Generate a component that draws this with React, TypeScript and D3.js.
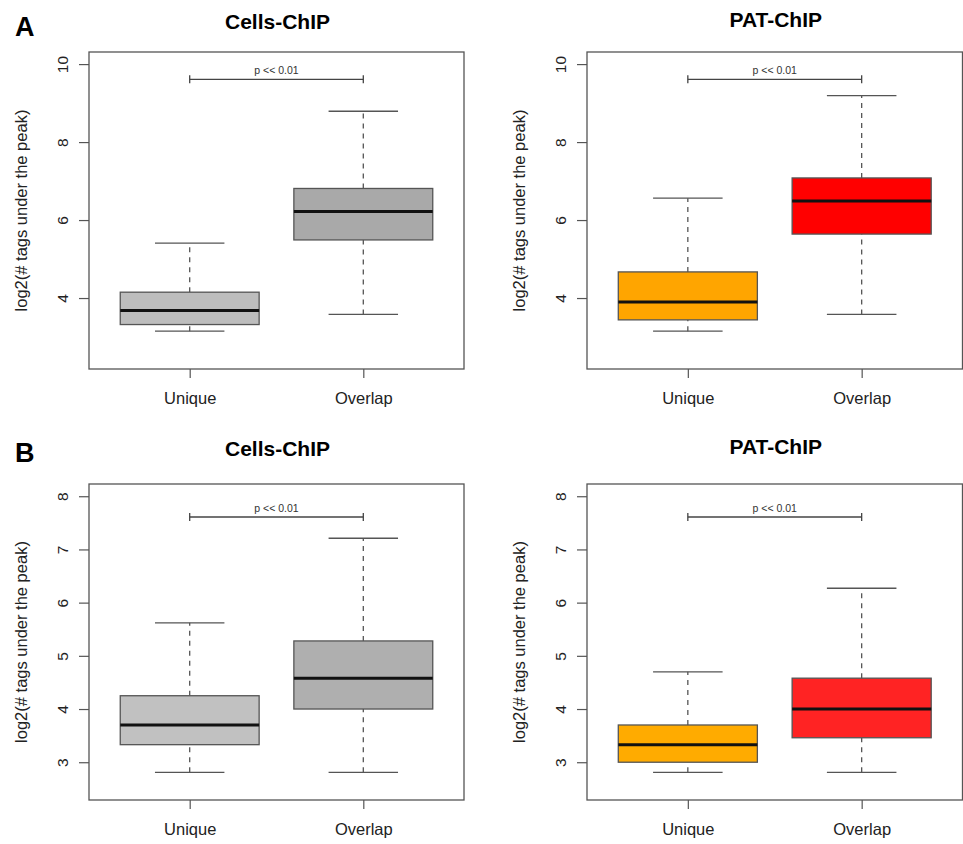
import { useEffect, useRef } from "react";
import * as d3 from "d3";

const groups = ["Unique", "Overlap"];

// five-number summaries: [lower whisker, Q1, median, Q3, upper whisker]
const aCellsUnique = [3.15, 3.32, 3.68, 4.15, 5.41];
const aCellsOverlap = [3.58, 5.49, 6.22, 6.81, 8.79];
const aPatUnique = [3.15, 3.44, 3.9, 4.67, 6.56];
const aPatOverlap = [3.58, 5.64, 6.49, 7.08, 9.19];
const bCellsUnique = [2.81, 3.33, 3.7, 4.25, 5.62];
const bCellsOverlap = [2.81, 4.0, 4.58, 5.28, 7.21];
const bPatUnique = [2.81, 3.0, 3.33, 3.7, 4.7];
const bPatOverlap = [2.81, 3.46, 4.0, 4.58, 6.27];

const aTicks = [4, 6, 8, 10];
const bTicks = [3, 4, 5, 6, 7, 8];
const aDomain = [2.18, 10.31];
const bDomain = [2.29, 8.23];
const aPValueAt = 9.61;
const bPValueAt = 7.61;

const titles = ["Cells-ChIP", "PAT-ChIP"];
const pLabel = "p << 0.01";
const yLabel = "log2(# tags under the peak)";

const font = "'Liberation Sans', Arial, Helvetica, sans-serif";

const panels = [
  { title: titles[0], stats: [aCellsUnique, aCellsOverlap], fills: ["#bdbdbd", "#a9a9a9"], ticks: aTicks, domain: aDomain, pAt: aPValueAt, left: 89, right: 464, top: 52, bottom: 369, titleY: 29 },
  { title: titles[1], stats: [aPatUnique, aPatOverlap], fills: ["#ffa500", "#ff0000"], ticks: aTicks, domain: aDomain, pAt: aPValueAt, left: 587, right: 962.5, top: 52, bottom: 369, titleY: 27 },
  { title: titles[0], stats: [bCellsUnique, bCellsOverlap], fills: ["#c1c1c1", "#afafaf"], ticks: bTicks, domain: bDomain, pAt: bPValueAt, left: 89, right: 464, top: 484, bottom: 800, titleY: 456 },
  { title: titles[1], stats: [bPatUnique, bPatOverlap], fills: ["#ffab00", "#ff2323"], ticks: bTicks, domain: bDomain, pAt: bPValueAt, left: 587, right: 962.5, top: 484, bottom: 800, titleY: 454 },
];

export default function App() {
  const ref = useRef<SVGSVGElement>(null);

  useEffect(() => {
    const svg = d3.select(ref.current);
    svg.selectAll("*").remove();

    svg.append("text").attr("x", 15).attr("y", 36).attr("font-size", 27).attr("font-weight", "bold").text("A");
    svg.append("text").attr("x", 15).attr("y", 462).attr("font-size", 27).attr("font-weight", "bold").text("B");

    panels.forEach((p) => {
      // R boxplot: positions 1..n, xlim 0.5..n+0.5 padded by 4%
      const x = d3.scaleLinear().domain([0.42, 2.58]).range([p.left, p.right]);
      const y = d3.scaleLinear().domain(p.domain).range([p.bottom, p.top]);
      const g = svg.append("g");

      g.append("text")
        .attr("x", (p.left + p.right) / 2 + 1)
        .attr("y", p.titleY)
        .attr("text-anchor", "middle")
        .attr("font-size", 21)
        .attr("font-weight", "bold")
        .text(p.title);

      // y axis
      const ya = g.append("g")
        .attr("transform", `translate(${p.left},0)`)
        .call(d3.axisLeft(y).tickValues(p.ticks).tickSize(10).tickFormat(d3.format("d")));
      ya.select(".domain").remove();
      ya.selectAll(".tick line").attr("stroke", "#555").attr("stroke-width", 1.2);
      ya.selectAll(".tick text")
        .attr("x", null).attr("dy", null)
        .attr("transform", "translate(-27,0) rotate(-90)")
        .attr("text-anchor", "middle")
        .attr("dominant-baseline", "central")
        .attr("font-size", 15.5)
        .attr("font-family", font)
        .attr("fill", "#222");

      // x axis
      const xa = g.append("g")
        .attr("transform", `translate(0,${p.bottom})`)
        .call(d3.axisBottom(x).tickValues([1, 2]).tickSize(9).tickFormat((d) => groups[(d as number) - 1]));
      xa.select(".domain").remove();
      xa.selectAll(".tick line").attr("stroke", "#555").attr("stroke-width", 1.2);
      xa.selectAll(".tick text")
        .attr("y", 35).attr("dy", null)
        .attr("font-size", 16.5)
        .attr("font-family", font)
        .attr("fill", "#222");

      g.append("text")
        .attr("transform", `translate(${p.left - 68},${(p.top + p.bottom) / 2}) rotate(-90)`)
        .attr("text-anchor", "middle")
        .attr("dominant-baseline", "central")
        .attr("font-size", 16.5)
        .attr("font-family", font)
        .attr("fill", "#222")
        .text(yLabel);

      // boxes
      p.stats.forEach((s, i) => {
        const cx = x(i + 1);
        const hw = x(1.4) - x(1);
        const cw = x(1.2) - x(1);
        const [lo, q1, med, q3, hi] = s;
        const b = g.append("g");
        b.append("line").attr("x1", cx).attr("x2", cx).attr("y1", y(q3)).attr("y2", y(hi))
          .attr("stroke", "#555").attr("stroke-width", 1.3).attr("stroke-dasharray", "5,5");
        b.append("line").attr("x1", cx).attr("x2", cx).attr("y1", y(lo)).attr("y2", y(q1))
          .attr("stroke", "#555").attr("stroke-width", 1.3).attr("stroke-dasharray", "5,5");
        b.selectAll(".cap").data([lo, hi]).enter().append("line")
          .attr("x1", cx - cw).attr("x2", cx + cw).attr("y1", (d) => y(d)).attr("y2", (d) => y(d))
          .attr("stroke", "#555").attr("stroke-width", 1.3);
        b.append("rect").attr("x", cx - hw).attr("width", 2 * hw)
          .attr("y", y(q3)).attr("height", y(q1) - y(q3))
          .attr("fill", p.fills[i]).attr("stroke", "#555").attr("stroke-width", 1.3);
        b.append("line").attr("x1", cx - hw).attr("x2", cx + hw).attr("y1", y(med)).attr("y2", y(med))
          .attr("stroke", "#111").attr("stroke-width", 3);
      });

      // significance bar
      const py = y(p.pAt);
      g.append("line").attr("x1", x(1)).attr("x2", x(2)).attr("y1", py).attr("y2", py)
        .attr("stroke", "#444").attr("stroke-width", 1.3);
      [1, 2].forEach((v) => {
        g.append("line").attr("x1", x(v)).attr("x2", x(v)).attr("y1", py - 4).attr("y2", py + 4)
          .attr("stroke", "#444").attr("stroke-width", 1.3);
      });
      g.append("text")
        .attr("x", x(1.5))
        .attr("y", py - 5)
        .attr("text-anchor", "middle")
        .attr("font-size", 10.5)
        .attr("font-family", font)
        .attr("fill", "#333")
        .text(pLabel);

      // frame
      g.append("rect")
        .attr("x", p.left).attr("y", p.top)
        .attr("width", p.right - p.left).attr("height", p.bottom - p.top)
        .attr("fill", "none").attr("stroke", "#555").attr("stroke-width", 1.3);
    });
  }, []);

  return (
    <svg
      ref={ref}
      width={963}
      height={844}
      style={{ position: "absolute", left: 0, top: 0, background: "#fff", fontFamily: font }}
    />
  );
}
